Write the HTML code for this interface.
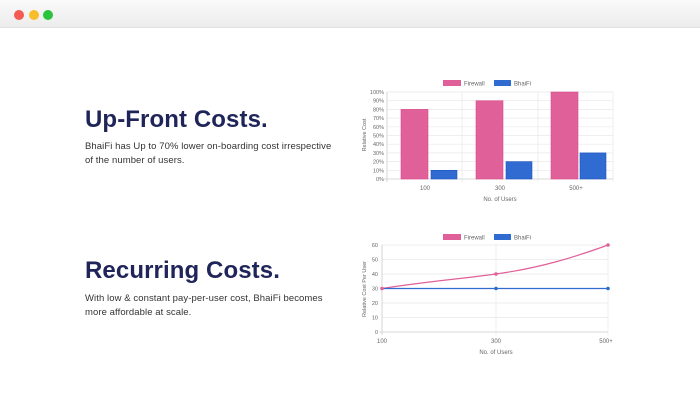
<!DOCTYPE html>
<html><head><style>
body{margin:0;width:700px;height:405px;background:#fff;font-family:"Liberation Sans",sans-serif;position:relative;overflow:hidden}
.bar{position:absolute;left:0;top:0;width:700px;height:27px;background:linear-gradient(#fafafa,#ececec);border-bottom:1px solid #e2e2e2}
.d{position:absolute;top:10px;width:10px;height:10px;border-radius:50%}
h2{position:absolute;margin:0;left:85px;font-size:24px;font-weight:bold;color:#1f2459;letter-spacing:0.1px;white-space:nowrap}
p{position:absolute;margin:0;left:85px;font-size:9.5px;line-height:14px;color:#333;white-space:nowrap;letter-spacing:0.08px}
</style></head><body>
<div class="bar"><div class="d" style="left:14px;background:#f25a52"></div><div class="d" style="left:29px;background:#f7bd2a"></div><div class="d" style="left:43px;background:#2ac43f"></div></div>
<h2 style="top:106px">Up-Front Costs.</h2>
<p style="top:140px">BhaiFi has Up to 70% lower on-boarding cost irrespective<br>of the number of users.</p>
<h2 style="top:257px">Recurring Costs.</h2>
<p style="top:292px">With low &amp; constant pay-per-user cost, BhaiFi becomes<br>more affordable at scale.</p>
<svg width="700" height="405" style="position:absolute;left:0;top:0" font-family="Liberation Sans" font-size="6" fill="#666">
<g stroke="#e8e8e8" stroke-width="0.7">
<line x1="387" y1="92" x2="613" y2="92"/><line x1="387" y1="100.7" x2="613" y2="100.7"/><line x1="387" y1="109.4" x2="613" y2="109.4"/><line x1="387" y1="118.1" x2="613" y2="118.1"/><line x1="387" y1="126.8" x2="613" y2="126.8"/><line x1="387" y1="135.5" x2="613" y2="135.5"/><line x1="387" y1="144.2" x2="613" y2="144.2"/><line x1="387" y1="152.9" x2="613" y2="152.9"/><line x1="387" y1="161.6" x2="613" y2="161.6"/><line x1="387" y1="170.3" x2="613" y2="170.3"/>
<line x1="462" y1="92" x2="462" y2="182"/><line x1="538" y1="92" x2="538" y2="182"/><line x1="613" y1="92" x2="613" y2="182"/>
</g>
<line x1="387" y1="92" x2="387" y2="182" stroke="#ccc" stroke-width="0.8"/><line x1="384" y1="179" x2="613" y2="179" stroke="#ccc" stroke-width="0.8"/>
<g text-anchor="end" font-size="5.5"><text x="384" y="94">100%</text><text x="384" y="102.7">90%</text><text x="384" y="111.4">80%</text><text x="384" y="120.1">70%</text><text x="384" y="128.8">60%</text><text x="384" y="137.5">50%</text><text x="384" y="146.2">40%</text><text x="384" y="154.9">30%</text><text x="384" y="163.6">20%</text><text x="384" y="172.3">10%</text><text x="384" y="181">0%</text></g>
<g fill="#e0609a" stroke="#d94a8a" stroke-width="0.6"><rect x="401" y="109.4" width="27" height="69.6"/><rect x="476" y="100.7" width="27" height="78.3"/><rect x="551" y="92" width="27" height="87"/></g>
<g fill="#2f6bd0" stroke="#1f55c0" stroke-width="0.6"><rect x="431" y="170.3" width="26" height="8.7"/><rect x="506" y="161.6" width="26" height="17.4"/><rect x="580" y="152.9" width="26" height="26.1"/></g>
<g text-anchor="middle"><text x="425" y="190">100</text><text x="500" y="190">300</text><text x="576" y="190">500+</text><text x="500" y="201">No. of Users</text></g>
<text transform="translate(366,135) rotate(-90)" text-anchor="middle" font-size="5.5">Relative Cost</text>
<rect x="443" y="80" width="18" height="6" fill="#e0609a"/><text x="464" y="85.5">Firewall</text>
<rect x="494" y="80" width="17" height="6" fill="#2f6bd0"/><text x="514" y="85.5">BhaiFi</text>
<g stroke="#e8e8e8" stroke-width="0.7">
<line x1="382" y1="245" x2="608" y2="245"/><line x1="382" y1="259.5" x2="608" y2="259.5"/><line x1="382" y1="274" x2="608" y2="274"/><line x1="382" y1="288.5" x2="608" y2="288.5"/><line x1="382" y1="303" x2="608" y2="303"/><line x1="382" y1="317.5" x2="608" y2="317.5"/>
<line x1="496" y1="245" x2="496" y2="335"/><line x1="608" y1="245" x2="608" y2="335"/>
</g>
<line x1="382" y1="245" x2="382" y2="335" stroke="#ccc" stroke-width="0.8"/><line x1="379" y1="332" x2="608" y2="332" stroke="#ccc" stroke-width="0.8"/>
<g text-anchor="end" font-size="5.5"><text x="378" y="247">60</text><text x="378" y="261.5">50</text><text x="378" y="276">40</text><text x="378" y="290.5">30</text><text x="378" y="305">20</text><text x="378" y="319.5">10</text><text x="378" y="334">0</text></g>
<path d="M382,288.5 C430,281 460,279 496,274 C540,268 575,257 608,245" fill="none" stroke="#e0609a" stroke-width="1.2"/>
<line x1="382" y1="288.5" x2="608" y2="288.5" stroke="#2f6bd0" stroke-width="1.2"/>
<g fill="#e0609a"><circle cx="382" cy="288.5" r="1.8"/><circle cx="496" cy="274" r="1.8"/><circle cx="608" cy="245" r="1.8"/></g>
<g fill="#2f6bd0"><circle cx="496" cy="288.5" r="1.8"/><circle cx="608" cy="288.5" r="1.8"/></g>
<g text-anchor="middle"><text x="382" y="343">100</text><text x="496" y="343">300</text><text x="606" y="343">500+</text><text x="496" y="354">No. of Users</text></g>
<text transform="translate(366,289) rotate(-90)" text-anchor="middle" font-size="5.5">Relative Cost Per User</text>
<rect x="443" y="234" width="18" height="6" fill="#e0609a"/><text x="464" y="239.5">Firewall</text>
<rect x="494" y="234" width="17" height="6" fill="#2f6bd0"/><text x="514" y="239.5">BhaiFi</text>
</svg>
</body></html>
